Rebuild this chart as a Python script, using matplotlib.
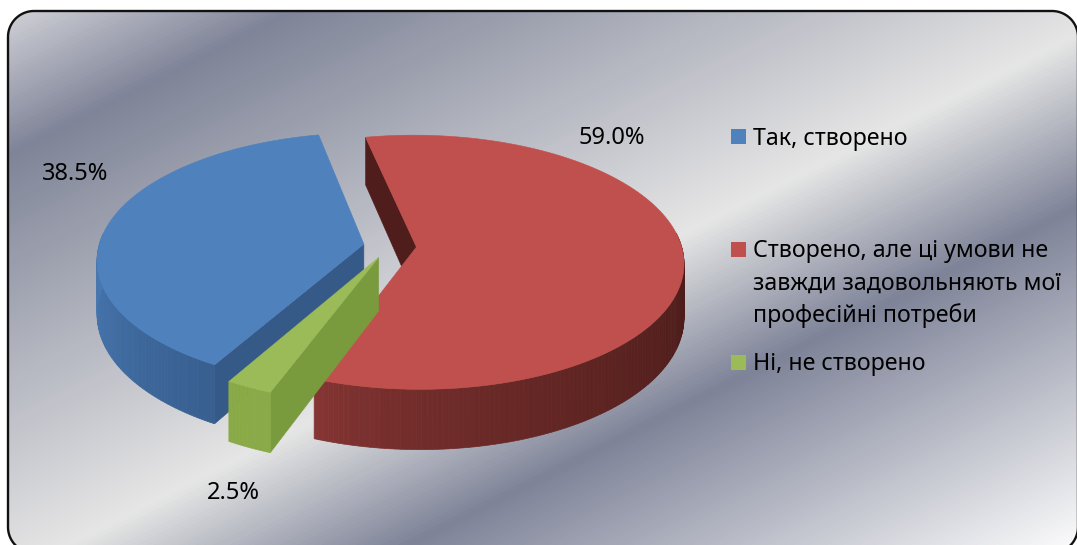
import numpy as np
import matplotlib
matplotlib.use("Agg")
import matplotlib.pyplot as plt
from matplotlib.colors import LinearSegmentedColormap, to_rgb
from matplotlib.patches import Polygon, Rectangle

labels = ["Так, створено",
          "Створено, але ці умови не\nзавжди задовольняють мої\nпрофесійні потреби",
          "Ні, не створено"]
shares = [38.5, 59.0, 2.5]
value_labels = ["38.5%", "59.0%", "2.5%"]
top_colors = ["#4f81bd", "#c0504d", "#9bbb59"]

W, H = 1077, 545
plt.rcParams['font.family'] = ['Noto Sans', 'DejaVu Sans']
fig = plt.figure(figsize=(W / 100, H / 100), dpi=100, facecolor="white")
ax = fig.add_axes([0, 0, 1, 1])
ax.set_xlim(0, W)
ax.set_ylim(H, 0)
ax.axis("off")


def rounded_box(x0, y0, x1, y1, r):
    a = np.linspace(0, np.pi / 2, 24)
    c, s = r * np.cos(a), r * np.sin(a)
    return np.vstack([
        np.column_stack([x0 + r - c, y0 + r - s]),
        np.column_stack([x1 - r + s, y0 + r - c]),
        np.column_stack([x1 - r + c, y1 - r + s]),
        np.column_stack([x0 + r - s, y1 - r + c]),
    ])


# background
yy, xx = np.mgrid[0:H, 0:W]
t = (0.45 * xx + 0.89 * yy) / 970
cmap = LinearSegmentedColormap.from_list("silver", [
    (0.0, "#d8d8dc"), (0.144, "#7f8498"), (0.531, "#e6e6e6"),
    (0.689, "#7e8398"), (1.0, "#fbfbfb")])
im = ax.imshow(t, cmap=cmap, vmin=0, vmax=1, extent=(0, W, H, 0), aspect="auto", zorder=0)
box = rounded_box(8, 11, 1078, 553, 26)
clip = Polygon(box, closed=True, transform=ax.transData, fc="none", ec="none")
ax.add_patch(clip)
im.set_clip_path(clip)
ax.add_patch(Polygon(box, closed=True, fc="none", ec="#111111", lw=1.7, zorder=1))
ax.set_xlim(0, W)
ax.set_ylim(H, 0)

# projection
X0, Y0, RX, RY, DEPTH, PERSP, EXPL = 390, 246, 265, 125, 53, 0.12, 0.1


def proj(x, y, z=0.0):
    s = 1 / (1 + PERSP * np.asarray(y))
    return np.column_stack([X0 + RX * np.asarray(x) * s,
                            Y0 - RY * np.asarray(y) * s + DEPTH * z * s])


def mix(c1, c2, f):
    a, b = np.array(to_rgb(c1)), np.array(to_rgb(c2))
    return tuple(a + (b - a) * f)


start_deg = 240.3
spans = 360 * np.array(shares) / 100
ends = start_deg - np.cumsum(spans)
starts = ends + spans
face_colors = ["#355a88", "#4f1e1c", "#7a9a3e"]
order = [0, 2, 1]
Z01 = np.array([0, 0, 1, 1])

for i in order:
    a0, a1 = starts[i], ends[i]
    mid = np.radians((a0 + a1) / 2)
    ox, oy = EXPL * np.cos(mid), EXPL * np.sin(mid)
    th = np.radians(np.linspace(a0, a1, max(int(abs(a1 - a0)) + 1, 12)))
    rx, ry = ox + np.cos(th), oy + np.sin(th)
    z = 10 + i * 3
    # cut face at the start of the slice
    pts = proj([ox, rx[0], rx[0], ox], [oy, ry[0], ry[0], oy], Z01)
    ax.add_patch(Polygon(pts, fc=face_colors[i], ec=face_colors[i], lw=0.4, zorder=z))
    # rim wall
    for k in range(len(th) - 1):
        if ry[k] > 0.1 and ry[k + 1] > 0.1:
            continue
        deg = np.degrees(th[k]) % 360
        if i == 0:
            f = np.clip((240 - deg) / 60, 0, 1)
            col = mix("#385f90", "#4778b2", f)
        elif i == 1:
            f = np.clip(((deg - 249) % 360) / 111, 0, 1) ** 0.6
            col = mix("#8a3735", "#491b19", f)
        else:
            col = "#8aaa48"
        q = proj([rx[k], rx[k + 1], rx[k + 1], rx[k]], [ry[k], ry[k + 1], ry[k + 1], ry[k]], Z01)
        ax.add_patch(Polygon(q, fc=col, ec=col, lw=0.5, zorder=z + 0.1))
    # top
    top = proj(np.r_[ox, rx], np.r_[oy, ry])
    ax.add_patch(Polygon(top, fc=top_colors[i], ec=top_colors[i], lw=0.4, zorder=z + 0.2))

# value labels
value_pos = [(75, 174), (612, 138), (233, 493)]
for s, (x, y) in zip(value_labels, value_pos):
    ax.text(x, y, s, ha="center", va="center", fontsize=17, color="black", zorder=30)

# legend
legend_y = [(129, 145), (242, 257), (355, 370)]
for lab, c, (ytop, base) in zip(labels, top_colors, legend_y):
    ax.add_patch(Rectangle((731, ytop), 15, 15, fc=c, ec="none", zorder=30))
    lines = lab.split("\n")
    for n, line in enumerate(lines):
        ax.text(753, base + 32.5 * n, line, ha="left", va="baseline",
                fontsize=16.7, color="black", zorder=30)

fig.savefig("out.png", dpi=100, facecolor="white")
